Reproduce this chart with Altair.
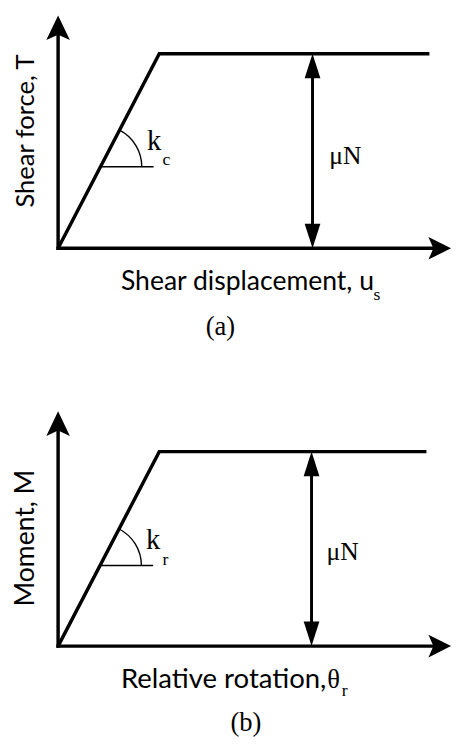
import altair as alt
import pandas as pd

# ---------------- data (schematic units) ----------------
# Panel (a): shear force T vs shear displacement u_s
a_curve_x = [0.0, 2.575, 9.45]       # origin, yield point, end of plateau
a_curve_y = [0.0, 8.354, 8.354]      # plateau level = muN
a_tip = [10.0, 10.0]                 # axis arrow tips (x, y)
a_muN_x = 6.475                      # position of the muN double arrow
a_angle = [1.08, 3.50]               # where stiffness angle k_c is marked

# Panel (b): moment M vs relative rotation theta_r
b_curve_x = [0.0, 2.575, 9.375]
b_curve_y = [0.0, 8.285, 8.285]
b_tip = [10.0, 10.0]
b_muN_x = 6.45
b_angle = [1.07, 3.43]

# labels: text, x, y, font, size, angle, align
a_labels = [
    ("Shear force, T", -0.62, 5.04, "Lato", 26, 270, "center"),
    ("Shear displacement, u", 1.6, -1.77, "Lato", 27, 0, "left"),
    ("s", 8.03, -2.24, "Liberation Serif", 18, 0, "left"),
    ("(a)", 4.13, -3.71, "Liberation Serif", 27, 0, "center"),
    ("\u03bcN", 6.9, 3.63, "Liberation Serif", 26, 0, "left"),
    ("k", 2.26, 4.22, "Liberation Serif", 29, 0, "left"),
    ("c", 2.66, 3.59, "Liberation Serif", 18, 0, "left"),
]
b_labels = [
    ("Moment, M", -0.62, 4.60, "Lato", 27, 270, "center"),
    ("Relative rotation,", 1.6, -1.80, "Lato", 28, 0, "left"),
    ("\u03b8", 6.85, -1.80, "Liberation Serif", 27, 0, "left"),
    ("r", 7.22, -2.13, "Liberation Serif", 18, 0, "left"),
    ("(b)", 4.78, -3.60, "Liberation Serif", 27, 0, "center"),
    ("\u03bcN", 6.83, 3.68, "Liberation Serif", 26, 0, "left"),
    ("k", 2.24, 4.14, "Liberation Serif", 29, 0, "left"),
    ("r", 2.66, 3.47, "Liberation Serif", 18, 0, "left"),
]

W = 452
XDOM = [-1.275, 10.025]

UP_NOTCH = "M0,0L0.48,1L0,0.78L-0.48,1Z"
RIGHT_NOTCH = "M0,0L-1,-0.5L-0.78,0L-1,0.5Z"
UP_PLAIN = "M0,0L0.32,1L-0.32,1Z"
DOWN_PLAIN = "M0,0L0.32,-1L-0.32,-1Z"


def panel(curve_x, curve_y, tip, muN_x, angle, labels, ydom, height):
    xs = alt.Scale(domain=XDOM, nice=False, zero=False)
    ys = alt.Scale(domain=ydom, nice=False, zero=False)

    def X(f="x"):
        return alt.X(f"{f}:Q", scale=xs, axis=None)

    def Y(f="y"):
        return alt.Y(f"{f}:Q", scale=ys, axis=None)

    level = curve_y[1]
    layers = []

    # force-displacement curve
    cdf = pd.DataFrame({"x": curve_x, "y": curve_y, "o": list(range(len(curve_x)))})
    layers.append(
        alt.Chart(cdf).mark_line(color="black", strokeWidth=3.5, strokeJoin="miter")
        .encode(x=X(), y=Y(), order="o:Q")
    )

    # axes with arrow heads
    layers.append(
        alt.Chart(pd.DataFrame({"x": [0.0], "y": [0.0], "y2": [tip[1]]}))
        .mark_rule(color="black", strokeWidth=3.5, strokeCap="square", y2Offset=14)
        .encode(x=X(), y=Y(), y2=alt.Y2("y2:Q"))
    )
    layers.append(
        alt.Chart(pd.DataFrame({"x": [0.0], "x2": [tip[0]], "y": [0.0]}))
        .mark_rule(color="black", strokeWidth=3.5, strokeCap="square", x2Offset=-14)
        .encode(x=X(), x2=alt.X2("x2:Q"), y=Y())
    )
    layers.append(
        alt.Chart(pd.DataFrame({"x": [0.0], "y": [tip[1]]}))
        .mark_point(shape=UP_NOTCH, size=2500, filled=True, color="black", opacity=1, strokeWidth=0)
        .encode(x=X(), y=Y())
    )
    layers.append(
        alt.Chart(pd.DataFrame({"x": [tip[0]], "y": [0.0]}))
        .mark_point(shape=RIGHT_NOTCH, size=2116, filled=True, color="black", opacity=1, strokeWidth=0)
        .encode(x=X(), y=Y())
    )

    # muN double arrow
    layers.append(
        alt.Chart(pd.DataFrame({"x": [muN_x], "y": [0.0], "y2": [level]}))
        .mark_rule(color="black", strokeWidth=3, yOffset=-15, y2Offset=15)
        .encode(x=X(), y=Y(), y2=alt.Y2("y2:Q"))
    )
    layers.append(
        alt.Chart(pd.DataFrame({"x": [muN_x], "y": [level]}))
        .mark_point(shape=UP_PLAIN, size=2500, filled=True, color="black", opacity=1, strokeWidth=0)
        .encode(x=X(), y=Y())
    )
    layers.append(
        alt.Chart(pd.DataFrame({"x": [muN_x], "y": [0.0]}))
        .mark_point(shape=DOWN_PLAIN, size=2500, filled=True, color="black", opacity=1, strokeWidth=0)
        .encode(x=X(), y=Y())
    )

    # stiffness angle marker
    adf = pd.DataFrame({"x": [angle[0]], "y": [angle[1]]})
    layers.append(
        alt.Chart(adf).mark_rule(color="black", strokeWidth=1.5, x2Offset=54)
        .encode(x=X(), x2=alt.X2("x:Q"), y=Y())
    )
    layers.append(
        alt.Chart(adf).mark_arc(theta=0.48, theta2=1.5708, innerRadius=41.3,
                                outerRadius=42.7, color="black")
        .encode(x=X(), y=Y())
    )

    # labels
    for (t, lx, ly, font, size, ang, align) in labels:
        ldf = pd.DataFrame({"x": [lx], "y": [ly], "t": [t]})
        layers.append(
            alt.Chart(ldf).mark_text(font=font, fontSize=size, angle=ang, align=align,
                                     baseline="alphabetic", color="black")
            .encode(x=X(), y=Y(), text="t:N")
        )

    return alt.layer(*layers).properties(width=W, height=height)


top = panel(a_curve_x, a_curve_y, a_tip, a_muN_x, a_angle, a_labels,
            [-4.05, 10.042], 334)
bot = panel(b_curve_x, b_curve_y, b_tip, b_muN_x, b_angle, b_labels,
            [-3.808, 12.929], 400)

chart = (
    alt.vconcat(top, bot, spacing=0)
    .properties(padding=0, background="white")
    .configure_view(strokeWidth=0)
)

chart.save("out.html", embed_options={"renderer": "svg", "actions": False})
